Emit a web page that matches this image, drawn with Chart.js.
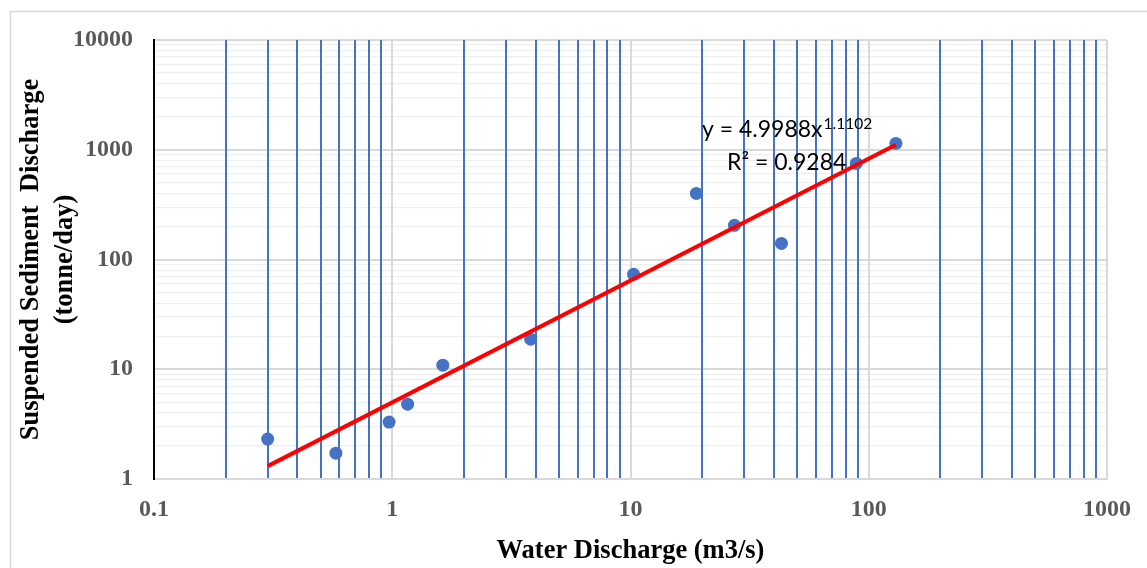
<!DOCTYPE html>
<html>
<head>
<meta charset="utf-8">
<script src="https://cdn.jsdelivr.net/npm/chart.js@4.4.1/dist/chart.umd.min.js"></script>
<style>
  html, body { margin: 0; padding: 0; background: #ffffff; }
  #wrap { position: relative; width: 1147px; height: 568px; }
  canvas { display: block; }
</style>
</head>
<body>
<div id="wrap"><canvas id="c" width="1147" height="568"></canvas></div>
<script>
// ---- Data ----
const waterDischarge = [0.30, 0.58, 0.97, 1.16, 1.63, 3.81, 10.3, 18.9, 27.3, 43.0, 88.7, 130];
const sedimentDischarge = [2.31, 1.72, 3.30, 4.81, 10.9, 18.8, 73.3, 400, 205, 140, 750, 1141];

// Power trendline end points (as drawn)
const trendX = [0.3, 130];
const trendY = [1.31, 1111];

// Axis tick decades and the minor multipliers between them
const xDecades = [0.1, 1, 10, 100, 1000];
const xDecadeLabels = ['0.1', '1', '10', '100', '1000'];
const yDecades = [1, 10, 100, 1000, 10000];
const yDecadeLabels = ['1', '10', '100', '1000', '10000'];
const minorMultipliers = [2, 3, 4, 5, 6, 7, 8, 9];

const equationText = 'y = 4.9988x';
const equationExponent = '1.1102';
const r2Text = 'R² = 0.9284';

const xTitle = 'Water Discharge (m3/s)';
const yTitle = ['Suspended Sediment  Discharge', '(tonne/day)'];

// ---- Build tick lists ----
function buildTicks(decades) {
  const out = [];
  decades.forEach((d, i) => {
    out.push(d);
    if (i < decades.length - 1) minorMultipliers.forEach(m => out.push(+(d * m).toPrecision(6)));
  });
  return out;
}
const xTickValues = buildTicks(xDecades);
const yTickValues = buildTicks(yDecades);

function labelFor(v, decades, labels) {
  for (let i = 0; i < decades.length; i++) {
    if (Math.abs(v - decades[i]) / decades[i] < 1e-9) return labels[i];
  }
  return '';
}
function isDecade(v) {
  const l = Math.log10(v);
  return Math.abs(l - Math.round(l)) < 1e-9;
}

const tickFont = { family: '"Liberation Serif", "Times New Roman", serif', size: 24, weight: 'bold', lineHeight: 1.2 };
const titleFont = { family: '"Liberation Serif", "Times New Roman", serif', size: 26.5, weight: 'bold', lineHeight: 1.25 };

const outerBorder = {
  id: 'outerBorder',
  beforeDraw(chart) {
    const ctx = chart.ctx;
    ctx.save();
    ctx.strokeStyle = '#d9d9d9';
    ctx.lineWidth = 1.5;
    ctx.beginPath();
    ctx.moveTo(10.5, 568);
    ctx.lineTo(10.5, 11.5);
    ctx.lineTo(1147, 11.5);
    ctx.stroke();
    ctx.restore();
  }
};

const equationLabel = {
  id: 'equationLabel',
  afterDatasetsDraw(chart) {
    const ctx = chart.ctx;
    ctx.save();
    ctx.fillStyle = '#000000';
    ctx.textBaseline = 'alphabetic';
    ctx.textAlign = 'left';
    ctx.font = '23px Lato, "Open Sans", sans-serif';
    const x0 = 702, y0 = 137;
    ctx.fillText(equationText, x0, y0);
    const w = ctx.measureText(equationText).width;
    ctx.font = '15.5px Lato, "Open Sans", sans-serif';
    ctx.fillText(equationExponent, x0 + w + 1, y0 - 8);
    ctx.font = '23px Lato, "Open Sans", sans-serif';
    ctx.fillText(r2Text, 727, 170);
    ctx.restore();
  }
};

new Chart(document.getElementById('c'), {
  data: {
    datasets: [
      {
        type: 'line',
        label: 'Power trendline',
        data: trendX.map((x, i) => ({ x, y: trendY[i] })),
        borderColor: '#ff0000',
        borderWidth: 4,
        pointRadius: 0,
        fill: false,
        tension: 0
      },
      {
        type: 'scatter',
        label: 'Observed',
        data: waterDischarge.map((x, i) => ({ x, y: sedimentDischarge[i] })),
        backgroundColor: '#4472c4',
        borderColor: '#4472c4',
        borderWidth: 0,
        pointRadius: 6.5,
        pointHoverRadius: 6.5
      }
    ]
  },
  options: {
    responsive: false,
    animation: false,
    events: [],
    layout: { padding: { left: 0, top: 40, right: 39.5, bottom: 0 } },
    plugins: { legend: { display: false }, tooltip: { enabled: false } },
    scales: {
      x: {
        type: 'logarithmic',
        position: 'bottom',
        min: 0.1,
        max: 1000,
        afterBuildTicks: s => { s.ticks = xTickValues.map(v => ({ value: v })); },
        afterFit: s => { s.height = 89; },
        ticks: {
          autoSkip: false,
          maxRotation: 0,
          minRotation: 0,
          padding: 16,
          color: '#595959',
          font: tickFont,
          callback: v => labelFor(v, xDecades, xDecadeLabels)
        },
        grid: {
          z: -1,
          drawTicks: false,
          color: c => (c.tick && isDecade(c.tick.value)) ? '#d9d9d9' : '#4472c4',
          lineWidth: 2
        },
        border: { display: true, color: '#d9d9d9', width: 2 },
        title: { display: true, text: xTitle, color: '#000000', font: titleFont, padding: { top: 0, bottom: 0 } }
      },
      y: {
        type: 'logarithmic',
        position: 'left',
        min: 1,
        max: 10000,
        afterBuildTicks: s => { s.ticks = yTickValues.map(v => ({ value: v })); },
        afterFit: s => { s.width = 154; },
        ticks: {
          autoSkip: false,
          padding: 21,
          color: '#595959',
          font: tickFont,
          callback: v => labelFor(v, yDecades, yDecadeLabels)
        },
        grid: {
          z: -2,
          drawTicks: false,
          color: c => (c.tick && isDecade(c.tick.value)) ? '#d9d9d9' : '#efefef',
          lineWidth: c => (c.tick && isDecade(c.tick.value)) ? 2 : 1.2
        },
        border: { display: true, color: '#000000', width: 2 },
        title: { display: true, text: yTitle, color: '#000000', font: titleFont, padding: { top: 15, bottom: 0 } }
      }
    }
  },
  plugins: [outerBorder, equationLabel]
});
</script>
</body>
</html>
